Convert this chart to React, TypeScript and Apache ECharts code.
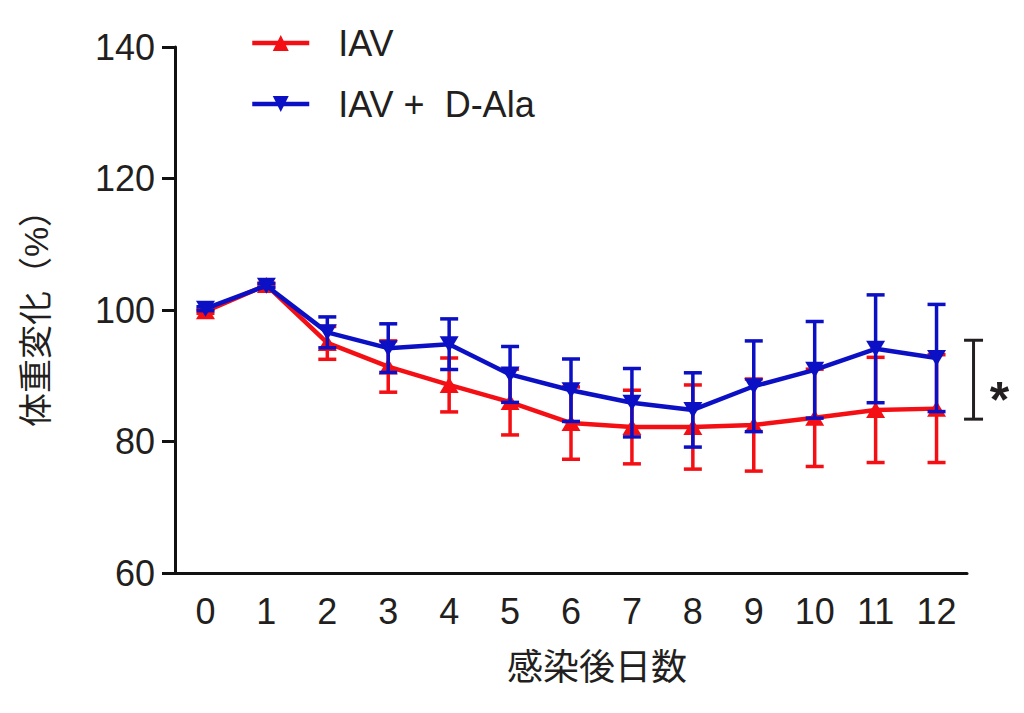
import React, { useEffect, useRef } from "react";
import * as echarts from "echarts";

const days = ["0", "1", "2", "3", "4", "5", "6", "7", "8", "9", "10", "11", "12"];
const iavMean = [99.8, 103.8, 95.0, 91.4, 88.6, 86.0, 82.8, 82.2, 82.2, 82.5, 83.6, 84.8, 85.0];
const iavErr = [0.3, 0.3, 2.5, 3.9, 4.1, 5.0, 5.5, 5.6, 6.4, 7.0, 7.4, 8.0, 8.2];
const dalaMean = [100.2, 103.7, 96.6, 94.2, 94.8, 90.2, 87.8, 85.9, 84.8, 88.4, 90.9, 94.1, 92.7];
const dalaErr = [0.3, 0.3, 2.35, 3.7, 3.85, 4.25, 4.75, 5.2, 5.65, 6.9, 7.35, 8.2, 8.15];
const yMin = 60;
const yMax = 140;
const yInterval = 20;
const seriesNames = ["IAV", "IAV +  D-Ala"];
const sigRange = [83.4, 95.4];
const sigLabel = "*";
const xName = "感染後日数";
const yName = "体重変化（%）";

const RED = "#f40f14";
const BLUE = "#0c10c4";
const INK = "#231f20";
const FONT = "'Liberation Sans', Arial, 'Noto Sans CJK JP', sans-serif";

function errorSeries(mean: number[], err: number[], color: string, z: number) {
  return {
    type: "custom",
    silent: true,
    z,
    data: mean.map((m, i) => [i, m - err[i], m + err[i]]),
    encode: { x: 0, y: [1, 2] },
    renderItem: (_params: any, api: any) => {
      const x = api.value(0);
      const lo = api.coord([x, api.value(1)]);
      const hi = api.coord([x, api.value(2)]);
      const hw = 9;
      const st = { stroke: color, lineWidth: 3.5 };
      return {
        type: "group",
        children: [
          { type: "line", shape: { x1: lo[0], y1: lo[1], x2: hi[0], y2: hi[1] }, style: st },
          { type: "line", shape: { x1: lo[0] - hw, y1: lo[1], x2: lo[0] + hw, y2: lo[1] }, style: st },
          { type: "line", shape: { x1: hi[0] - hw, y1: hi[1], x2: hi[0] + hw, y2: hi[1] }, style: st },
        ],
      };
    },
  };
}

export default function App() {
  const ref = useRef<HTMLDivElement>(null);
  useEffect(() => {
    if (!ref.current) return;
    const chart = echarts.init(ref.current, null, { renderer: "svg" });
    const option: any = {
      animation: false,
      backgroundColor: "#ffffff",
      textStyle: { fontFamily: FONT, color: INK },
      grid: { left: 175, right: 57, top: 47, bottom: 140 },
      legend: {
        orient: "vertical",
        left: 245,
        top: 18,
        itemWidth: 57,
        itemHeight: 20,
        itemGap: 21,
        data: seriesNames,
        lineStyle: { width: 4.5 },
        textStyle: {
          fontFamily: FONT,
          fontSize: 36,
          color: INK,
          lineHeight: 40,
          padding: [0, 0, 0, 24],
        },
      },
      xAxis: {
        type: "category",
        data: days,
        boundaryGap: true,
        name: xName,
        nameLocation: "middle",
        nameGap: 76,
        nameTextStyle: { fontSize: 36, color: INK, fontFamily: FONT, padding: [0, 0, 0, 52] },
        axisLine: { lineStyle: { color: "#111", width: 3 } },
        axisTick: { alignWithLabel: true, length: 11, lineStyle: { color: "#111", width: 3 } },
        axisLabel: { fontSize: 36, color: INK, margin: 20, fontFamily: FONT },
        splitLine: { show: false },
      },
      yAxis: {
        type: "value",
        min: yMin,
        max: yMax,
        interval: yInterval,
        name: yName,
        nameLocation: "middle",
        nameRotate: 90,
        nameGap: 122,
        nameTextStyle: { fontSize: 34, color: INK, fontFamily: FONT },
        axisLine: { show: true, lineStyle: { color: "#111", width: 3 } },
        axisTick: { show: true, length: 13, lineStyle: { color: "#111", width: 3 } },
        axisLabel: { fontSize: 36, color: INK, margin: 20, fontFamily: FONT },
        splitLine: { show: false },
      },
      series: [
        errorSeries(iavMean, iavErr, RED, 2),
        {
          name: seriesNames[0],
          type: "line",
          data: iavMean,
          z: 3,
          symbol: "triangle",
          symbolSize: [19, 16],
          lineStyle: { color: RED, width: 4.5 },
          itemStyle: { color: RED },
        },
        errorSeries(dalaMean, dalaErr, BLUE, 4),
        {
          name: seriesNames[1],
          type: "line",
          data: dalaMean,
          z: 5,
          symbol: "triangle",
          symbolRotate: 180,
          symbolSize: [19, 16],
          lineStyle: { color: BLUE, width: 4.5 },
          itemStyle: { color: BLUE },
        },
        {
          type: "custom",
          silent: true,
          clip: false,
          z: 6,
          data: [[days.length - 1, sigRange[0], sigRange[1]]],
          encode: { x: 0, y: [1, 2] },
          renderItem: (_params: any, api: any) => {
            const x = api.value(0);
            const lo = api.coord([x, api.value(1)]);
            const hi = api.coord([x, api.value(2)]);
            const bx = lo[0] + 37;
            const hw = 9.5;
            const st = { stroke: INK, lineWidth: 3 };
            return {
              type: "group",
              children: [
                { type: "line", shape: { x1: bx, y1: lo[1], x2: bx, y2: hi[1] }, style: st },
                { type: "line", shape: { x1: bx - hw, y1: lo[1], x2: bx + hw, y2: lo[1] }, style: st },
                { type: "line", shape: { x1: bx - hw, y1: hi[1], x2: bx + hw, y2: hi[1] }, style: st },
                {
                  type: "text",
                  x: bx + 26,
                  y: (lo[1] + hi[1]) / 2 + 20,
                  style: {
                    text: sigLabel,
                    fill: INK,
                    font: "bold 50px 'Liberation Sans', Arial, sans-serif",
                    textAlign: "center",
                    textVerticalAlign: "middle",
                  },
                },
              ],
            };
          },
        },
      ],
    };
    chart.setOption(option);
    return () => chart.dispose();
  }, []);
  return (
    <div
      ref={ref}
      style={{ position: "fixed", left: 0, top: 0, width: 1024, height: 713, background: "#fff" }}
    />
  );
}
